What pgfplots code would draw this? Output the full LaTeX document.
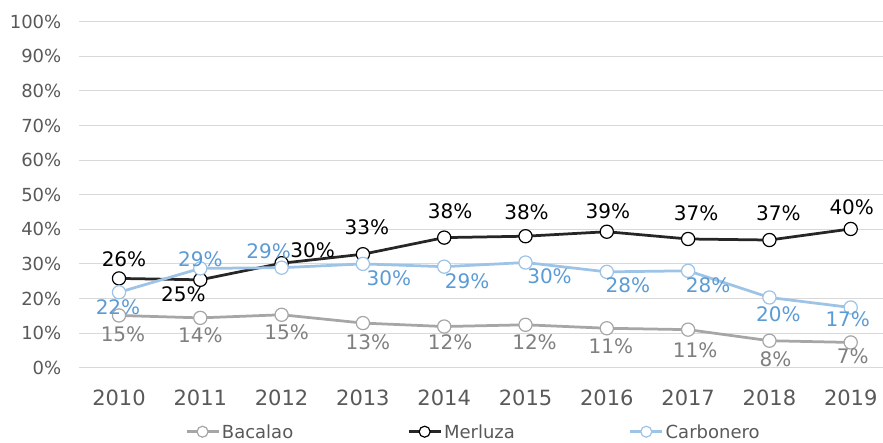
\documentclass[border=0pt]{standalone}
\usepackage{pgfplots}
\pgfplotsset{compat=1.18}
\usepackage{pgfplotstable}
\usepackage{fontspec}
\setmainfont{DejaVu Sans}
\usetikzlibrary{calc}
\definecolor{merl}{HTML}{262626}
\definecolor{carb}{HTML}{9DC3E6}
\definecolor{carblab}{HTML}{5B9BD5}
\definecolor{baca}{HTML}{A6A6A6}
\definecolor{bacalab}{HTML}{7F7F7F}
\definecolor{tickc}{HTML}{595959}
\definecolor{gridc}{HTML}{D9D9D9}

\pgfplotstableread{
x y lab dx dy
2010 15.1 15 4 -19
2011 14.4 14 0 -17
2012 15.3 15 5 -17
2013 12.9 13 5 -19
2014 11.9 12 6 -16
2015 12.4 12 9 -17
2016 11.4 11 4 -18
2017 11.0 11 7 -21
2018 7.8 8 6 -19
2019 7.3 7 2 -14
}\bacalao

\pgfplotstableread{
x y lab dx dy
2010 25.8 26 5 19
2011 25.4 25 -17 -14
2012 30.2 30 31 13
2013 32.8 33 4 27
2014 37.6 38 6 26
2015 38.0 38 1 24
2016 39.3 39 1 21
2017 37.2 37 8 26
2018 36.9 37 9 27
2019 40.1 40 1 22
}\merluza

\pgfplotstableread{
x y lab dx dy
2010 21.8 22 -1 -15
2011 28.7 29 0 9
2012 28.9 29 -13 16
2013 30.0 30 26 -14
2014 29.2 29 23 -15
2015 30.4 30 24 -14
2016 27.7 28 21 -13
2017 28.0 28 20 -14
2018 20.3 20 9 -17
2019 17.4 17 -3 -12
}\carbonero

\pgfplotsset{
  ser/.style={color=#1, line width=2.75bp, mark=*, mark size=6.6bp,
    mark options={fill=white, draw=#1, line width=1.2bp}},
}

\begin{document}
\begin{tikzpicture}
\begin{axis}[name=ax,
  scale only axis, width=804bp, height=346bp,
  xmin=2009.508, xmax=2019.397, ymin=0, ymax=100,
  clip=false,
  axis line style={draw=none},
  major tick length=0pt, tick style={draw=none},
  ymajorgrids, grid style={color=gridc, line width=1bp},
  ytick={0,10,...,100},
  yticklabels={0\%,10\%,20\%,30\%,40\%,50\%,60\%,70\%,80\%,90\%,100\%},
  yticklabel style={anchor=east, inner sep=0pt, xshift=-17.5bp, text=tickc,
    font=\fontsize{18bp}{20bp}\selectfont},
  xtick={2010,2011,...,2019},
  xticklabels={2010,2011,2012,2013,2014,2015,2016,2017,2018,2019},
  xticklabel style={anchor=base, inner sep=0pt, yshift=-37.3bp, text=tickc,
    font=\fontsize{21bp}{23bp}\selectfont},
  legend columns=3,
  legend cell align=left,
  legend image code/.code={
    \draw[#1, mark=none] (0bp,0bp) -- (32bp,0bp);
    \draw[#1, mark size=5.5bp] plot coordinates {(16bp,0bp)};
  },
  legend style={draw=none, fill=none, at={(0.1318,-0.185)}, anchor=west,
    inner sep=0pt,
    nodes={inner sep=0pt, text depth=0pt, text=tickc,
      font=\fontsize{18bp}{20bp}\selectfont},
    /tikz/every odd column/.append style={column sep=2bp},
    /tikz/every even column/.append style={column sep=114bp}},
]
\addplot[ser=baca] table[x=x,y=y]{\bacalao};
\addlegendentry{Bacalao}
\addplot[ser=merl, mark options={fill=white, draw=black, line width=1.2bp}] table[x=x,y=y]{\merluza};
\addlegendentry{Merluza}
\addplot[ser=carb] table[x=x,y=y]{\carbonero};
\addlegendentry{Carbonero}

\addplot[draw=none, mark=none, forget plot,
    point meta=explicit symbolic,
    nodes near coords={\pgfplotspointmeta\%},
    visualization depends on={\thisrow{dx}\as\dx},
    visualization depends on={\thisrow{dy}\as\dy},
    every node near coord/.append style={anchor=center, inner sep=0pt,
      xshift=\dx bp, yshift=\dy bp, text=bacalab,
      font=\fontsize{20bp}{22bp}\selectfont}]
  table[x=x,y=y,meta=lab]{\bacalao};
\addplot[draw=none, mark=none, forget plot,
    point meta=explicit symbolic,
    nodes near coords={\pgfplotspointmeta\%},
    visualization depends on={\thisrow{dx}\as\dx},
    visualization depends on={\thisrow{dy}\as\dy},
    every node near coord/.append style={anchor=center, inner sep=0pt,
      xshift=\dx bp, yshift=\dy bp, text=black,
      font=\fontsize{20bp}{22bp}\selectfont}]
  table[x=x,y=y,meta=lab]{\merluza};
\addplot[draw=none, mark=none, forget plot,
    point meta=explicit symbolic,
    nodes near coords={\pgfplotspointmeta\%},
    visualization depends on={\thisrow{dx}\as\dx},
    visualization depends on={\thisrow{dy}\as\dy},
    every node near coord/.append style={anchor=center, inner sep=0pt,
      xshift=\dx bp, yshift=\dy bp, text=carblab,
      font=\fontsize{20bp}{22bp}\selectfont}]
  table[x=x,y=y,meta=lab]{\carbonero};
\end{axis}
\pgfresetboundingbox
\path[use as bounding box] ($(ax.south west)+(-79bp,-75.3bp)$) rectangle ($(ax.north east)+(0bp,21.7bp)$);
\end{tikzpicture}
\end{document}
